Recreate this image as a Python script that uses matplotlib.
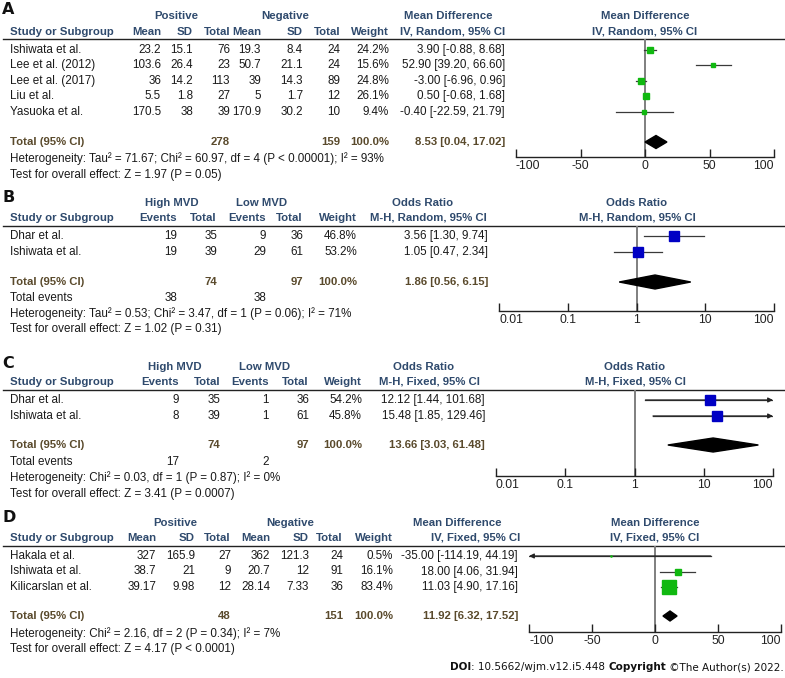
import numpy as np
import matplotlib.pyplot as plt

# %% data
a_study = ['Ishiwata et al.', 'Lee et al. (2012)', 'Lee et al. (2017)', 'Liu et al.', 'Yasuoka et al.']
a_pos_mean = [23.2, 103.6, 36, 5.5, 170.5]
a_pos_sd = [15.1, 26.4, 14.2, 1.8, 38]
a_pos_n = [76, 23, 113, 27, 39]
a_neg_mean = [19.3, 50.7, 39, 5, 170.9]
a_neg_sd = [8.4, 21.1, 14.3, 1.7, 30.2]
a_neg_n = [24, 24, 89, 12, 10]
a_weight = [24.2, 15.6, 24.8, 26.1, 9.4]
a_est = [3.90, 52.90, -3.00, 0.50, -0.40]
a_lo = [-0.88, 39.20, -6.96, -0.68, -22.59]
a_hi = [8.68, 66.60, 0.96, 1.68, 21.79]
a_total = [8.53, 0.04, 17.02]
a_total_n = [278, 159]
a_het = 'Heterogeneity: Tau² = 71.67; Chi² = 60.97, df = 4 (P < 0.00001); I² = 93%'
a_test = 'Test for overall effect: Z = 1.97 (P = 0.05)'

b_study = ['Dhar et al.', 'Ishiwata et al.']
b_high_events = [19, 19]
b_high_n = [35, 39]
b_low_events = [9, 29]
b_low_n = [36, 61]
b_weight = [46.8, 53.2]
b_est = [3.56, 1.05]
b_lo = [1.30, 0.47]
b_hi = [9.74, 2.34]
b_total = [1.86, 0.56, 6.15]
b_total_n = [74, 97]
b_total_events = [38, 38]
b_het = 'Heterogeneity: Tau² = 0.53; Chi² = 3.47, df = 1 (P = 0.06); I² = 71%'
b_test = 'Test for overall effect: Z = 1.02 (P = 0.31)'

c_study = ['Dhar et al.', 'Ishiwata et al.']
c_high_events = [9, 8]
c_high_n = [35, 39]
c_low_events = [1, 1]
c_low_n = [36, 61]
c_weight = [54.2, 45.8]
c_est = [12.12, 15.48]
c_lo = [1.44, 1.85]
c_hi = [101.68, 129.46]
c_total = [13.66, 3.03, 61.48]
c_total_n = [74, 97]
c_total_events = [17, 2]
c_het = 'Heterogeneity: Chi² = 0.03, df = 1 (P = 0.87); I² = 0%'
c_test = 'Test for overall effect: Z = 3.41 (P = 0.0007)'

d_study = ['Hakala et al.', 'Ishiwata et al.', 'Kilicarslan et al.']
d_pos_mean = [327, 38.7, 39.17]
d_pos_sd = [165.9, 21, 9.98]
d_pos_n = [27, 9, 12]
d_neg_mean = [362, 20.7, 28.14]
d_neg_sd = [121.3, 12, 7.33]
d_neg_n = [24, 91, 36]
d_weight = [0.5, 16.1, 83.4]
d_est = [-35.00, 18.00, 11.03]
d_lo = [-114.19, 4.06, 4.90]
d_hi = [44.19, 31.94, 17.16]
d_total = [11.92, 6.32, 17.52]
d_total_n = [48, 151]
d_het = 'Heterogeneity: Chi² = 2.16, df = 2 (P = 0.34); I² = 7%'
d_test = 'Test for overall effect: Z = 4.17 (P < 0.0001)'

md_ticks = [-100, -50, 0, 50, 100]
or_ticks = [0.01, 0.1, 1, 10, 100]

# %% figure and a pixel-space layer for the table text
W, H = 785, 678
plt.rcParams['font.family'] = 'Liberation Sans'
fig = plt.figure(figsize=(W / 100, H / 100), dpi=100)
base = fig.add_axes([0, 0, 1, 1])
base.set_xlim(0, W)
base.set_ylim(H, 0)
base.axis('off')

FS = 8.4      # plain table text
FSB = 8.2     # bold headers
HEAD = '#2f4a6d'
TOT = '#5a4a2c'
INK = '#1a1a1a'
GREEN = '#10b810'
BLUE = '#0000c4'


def put(x, y, s, ha='left', bold=False, color=INK):
    base.text(x, y, s, ha=ha, va='center', fontsize=FSB if bold else FS, color=color,
              fontweight='bold' if bold else 'normal')


def ci(e, l, h):
    return f'{e:.2f} [{l:.2f}, {h:.2f}]'


def table(lay, letter, groups, names, cols, study, weight, est, lo, hi,
          total, total_n, het, test, ci_head, plot_head, total_events=None):
    base.text(2, lay['letter'], letter, ha='left', va='center', fontsize=11.5,
              fontweight='bold', family='DejaVu Sans', color='#111111')
    for g, gx in zip(groups, lay['gx']):
        put(gx, lay['g'], g, ha='center', bold=True, color=HEAD)
    put(lay['cih'][0], lay['g'], ci_head[0], ha='center', bold=True, color=HEAD)
    put(lay['cih'][1], lay['h'], ci_head[1], ha='center', bold=True, color=HEAD)
    put(lay['ph'], lay['g'], plot_head[0], ha='center', bold=True, color=HEAD)
    put(lay['ph'], lay['h'], plot_head[1], ha='center', bold=True, color=HEAD)
    put(10, lay['h'], 'Study or Subgroup', bold=True, color=HEAD)
    for nm, x in zip(names, lay['colx']):
        put(x, lay['h'], nm, ha='right', bold=True, color=HEAD)
    base.plot([3, 785], [lay['line']] * 2, color='#222222', lw=1.0)
    ncol = len(cols)
    for i, s in enumerate(study):
        y = lay['row0'] + i * lay['step']
        put(10, y, s)
        for j in range(ncol):
            put(lay['colx'][j], y, f'{cols[j][i]:g}', ha='right')
        put(lay['colx'][ncol], y, f'{weight[i]:.1f}%', ha='right')
        put(lay['colx'][ncol + 1], y, ci(est[i], lo[i], hi[i]), ha='right')
    yt = lay['total']
    put(10, yt, 'Total (95% CI)', bold=True, color=TOT)
    put(lay['colx'][ncol // 2 - 1], yt, str(total_n[0]), ha='right', bold=True, color=TOT)
    put(lay['colx'][ncol - 1], yt, str(total_n[1]), ha='right', bold=True, color=TOT)
    put(lay['colx'][ncol], yt, '100.0%', ha='right', bold=True, color=TOT)
    put(lay['colx'][ncol + 1], yt, ci(*total), ha='right', bold=True, color=TOT)
    foot = lay['foot']
    if total_events is not None:
        put(10, foot[0], 'Total events')
        put(lay['colx'][0], foot[0], str(total_events[0]), ha='right')
        put(lay['colx'][2], foot[0], str(total_events[1]), ha='right')
        foot = foot[1:]
    put(10, foot[0], het)
    put(10, foot[1], test)


def forest(lay, est, lo, hi, weight, total, log, color, k, dh):
    x0, x1, ya = lay['axis']
    yt = lay['line']
    ax = fig.add_axes([x0 / W, 1 - ya / H, (x1 - x0) / W, (ya - yt) / H])
    ax.patch.set_alpha(0)
    if log:
        ax.set_xscale('log')
        ticks, ref = or_ticks, 1
        labels = ['0.01', '0.1', '1', '10', '100']
    else:
        ticks, ref = md_ticks, 0
        labels = ['-100', '-50', '0', '50', '100']
    lim = (ticks[0], ticks[-1])
    ax.set_xlim(*lim)
    ax.set_ylim(ya, yt)
    for s in ['top', 'left', 'right']:
        ax.spines[s].set_visible(False)
    ax.spines['bottom'].set_linewidth(1.0)
    ax.spines['bottom'].set_color('#222222')
    ax.set_xticks(ticks)
    ax.set_xticklabels(labels)
    ax.minorticks_off()
    ax.set_yticks([])
    ax.tick_params(axis='x', direction='in', length=6, width=1, pad=2,
                   labelsize=8.8, colors='#222222')
    tl = ax.get_xticklabels()
    tl[0].set_ha('left')
    tl[-1].set_ha('right')
    ax.axvline(ref, color='#7f7f7f', lw=1.4, zorder=1)
    for i in range(len(est)):
        y = lay['row0'] + i * lay['step']
        l2, h2 = max(lo[i], lim[0]), min(hi[i], lim[1])
        ax.plot([l2, h2], [y, y], color='#3a3a3a', lw=0.9, zorder=2)
        if hi[i] > lim[1]:
            ax.annotate('', xy=(lim[1], y), xytext=(l2, y), annotation_clip=False,
                        arrowprops=dict(arrowstyle='-|>', color='#222222', lw=0.9,
                                        mutation_scale=7, shrinkA=0, shrinkB=0))
        if lo[i] < lim[0]:
            ax.annotate('', xy=(lim[0], y), xytext=(h2, y), annotation_clip=False,
                        arrowprops=dict(arrowstyle='-|>', color='#222222', lw=0.9,
                                        mutation_scale=7, shrinkA=0, shrinkB=0))
        ax.plot(est[i], y, 's', ms=k * np.sqrt(weight[i]), color=color, mec=color, zorder=3)
    e, l, h = total
    y = lay['total']
    ax.fill([l, e, h, e], [y, y - dh, y, y + dh], color='black', zorder=3)


# %% panel A
lay_a = dict(letter=10, g=16, h=32, line=39, row0=50, step=15.4, total=142, foot=[159, 175],
             gx=[176, 285], colx=[161, 193, 230, 261, 303, 340, 389, 505],
             cih=[448, 453], ph=645, axis=(516, 774, 157))
table(lay_a, 'A', ['Positive', 'Negative'], ['Mean', 'SD', 'Total', 'Mean', 'SD', 'Total', 'Weight'],
      [a_pos_mean, a_pos_sd, a_pos_n, a_neg_mean, a_neg_sd, a_neg_n], a_study, a_weight,
      a_est, a_lo, a_hi, a_total, a_total_n, a_het, a_test,
      ['Mean Difference', 'IV, Random, 95% CI'], ['Mean Difference', 'IV, Random, 95% CI'])
forest(lay_a, a_est, a_lo, a_hi, a_weight, a_total, False, GREEN, 0.85, 6.5)

# %% panel B
lay_b = dict(letter=198, g=203, h=218, line=226, row0=236, step=16, total=282, foot=[298, 314, 329],
             gx=[172, 262], colx=[177, 217, 266, 303, 357, 488],
             cih=[423, 428], ph=637, axis=(499, 774, 311))
table(lay_b, 'B', ['High MVD', 'Low MVD'], ['Events', 'Total', 'Events', 'Total', 'Weight'],
      [b_high_events, b_high_n, b_low_events, b_low_n], b_study, b_weight,
      b_est, b_lo, b_hi, b_total, b_total_n, b_het, b_test,
      ['Odds Ratio', 'M-H, Random, 95% CI'], ['Odds Ratio', 'M-H, Random, 95% CI'],
      total_events=b_total_events)
forest(lay_b, b_est, b_lo, b_hi, b_weight, b_total, True, BLUE, 1.0, 7)

# %% panel C
lay_c = dict(letter=363, g=367, h=382, line=390, row0=400, step=16, total=445, foot=[462, 478, 494],
             gx=[175, 265], colx=[179, 220, 269, 309, 362, 485],
             cih=[424, 429], ph=635, axis=(496, 773, 476))
table(lay_c, 'C', ['High MVD', 'Low MVD'], ['Events', 'Total', 'Events', 'Total', 'Weight'],
      [c_high_events, c_high_n, c_low_events, c_low_n], c_study, c_weight,
      c_est, c_lo, c_hi, c_total, c_total_n, c_het, c_test,
      ['Odds Ratio', 'M-H, Fixed, 95% CI'], ['Odds Ratio', 'M-H, Fixed, 95% CI'],
      total_events=c_total_events)
forest(lay_c, c_est, c_lo, c_hi, c_weight, c_total, True, BLUE, 1.0, 7)

# %% panel D
lay_d = dict(letter=518, g=523, h=538, line=546, row0=556, step=15.5, total=616, foot=[634, 649],
             gx=[175, 290], colx=[156, 195, 231, 270, 309, 343, 393, 518],
             cih=[457, 476], ph=655, axis=(529, 781, 632))
table(lay_d, 'D', ['Positive', 'Negative'], ['Mean', 'SD', 'Total', 'Mean', 'SD', 'Total', 'Weight'],
      [d_pos_mean, d_pos_sd, d_pos_n, d_neg_mean, d_neg_sd, d_neg_n], d_study, d_weight,
      d_est, d_lo, d_hi, d_total, d_total_n, d_het, d_test,
      ['Mean Difference', 'IV, Fixed, 95% CI'], ['Mean Difference', 'IV, Fixed, 95% CI'])
forest(lay_d, d_est, d_lo, d_hi, d_weight, d_total, False, GREEN, 1.1, 5)

# %% credit line
t = base.text(450, 667, 'DOI', ha='left', va='center', fontsize=7.5,
              fontweight='bold', family='DejaVu Sans', color='#111111')
for s, bold in [(': 10.5662/wjm.v12.i5.448 ', False), ('Copyright', True), (' ©The Author(s) 2022.', False)]:
    t = base.annotate(s, xy=(1, 0), xycoords=t, ha='left', va='bottom', fontsize=7.5,
                      fontweight='bold' if bold else 'normal', family='DejaVu Sans', color='#111111')

fig.savefig('out.png', dpi=100)
